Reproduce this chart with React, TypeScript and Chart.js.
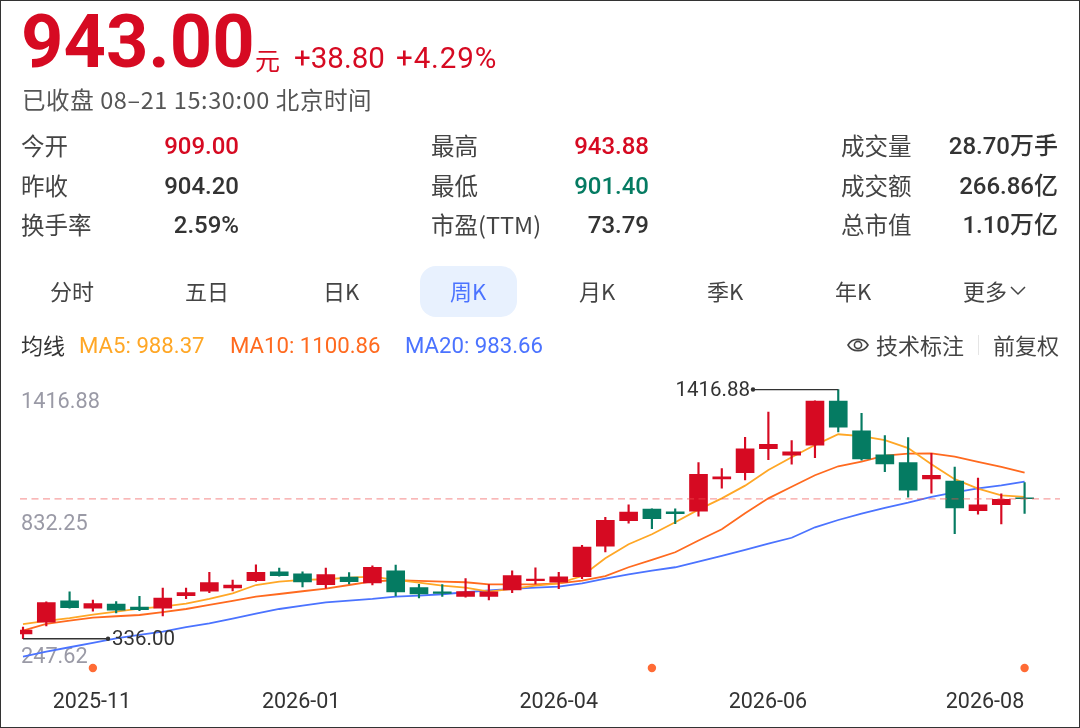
import React, { useEffect, useRef } from "react";
import { Chart, registerables } from "chart.js";

Chart.register(...registerables);

const opens = [357, 407.5, 500, 468, 486, 473, 468, 523, 542, 556, 588, 626, 618, 571, 603, 578, 631, 558, 539, 519, 519, 548, 588, 581, 605, 737, 848, 898, 886, 889, 1029, 1056, 1160, 1132, 1176, 1367, 1238, 1134, 1100, 1029, 1020, 891, 917, 945];
const closes = [374, 492.5, 471, 488, 460, 462, 512, 536, 579, 569, 624, 610, 582, 614, 584, 646, 539, 530, 532, 540, 539, 610, 595, 604, 733, 850, 885, 857, 878, 1049, 1038, 1160, 1179, 1147, 1367, 1254, 1116, 1094, 980, 1045, 903, 917, 941, 943];
const highs = [386, 495.5, 539, 504, 497, 520, 556, 556, 624, 590, 656, 642, 626, 642, 623, 652, 655, 572, 571, 597, 571, 630, 643, 624, 741, 863, 917, 899, 899, 1100, 1074, 1210, 1319, 1195, 1368, 1416.88, 1314, 1217, 1208, 1140, 1080, 1033, 964, 1013];
const lows = [336, 391.5, 468, 455, 448, 458, 435, 510, 536, 543, 585, 607, 561, 555, 574, 569, 522, 513, 519, 516, 504, 536, 574, 553, 597, 712, 837, 813, 835, 868, 989, 1025, 1113, 1093, 1121, 1233, 1111, 1061, 950, 967, 792, 876, 834, 880];
const ma5 = [399, 413, 425, 440.5, 453.5, 466.5, 475, 488, 508.5, 533, 569, 583.5, 591, 594, 601, 605, 591, 579, 566, 557.5, 540, 552, 566, 576.5, 608, 685, 746, 789, 841, 896, 945, 1000, 1068, 1123, 1176, 1223, 1215, 1197, 1163, 1093, 1028, 987, 958, 951];
const ma10 = [371, 400, 414.5, 427.5, 433.5, 439, 451, 465, 482.5, 500, 518.5, 530, 542, 553, 569, 585, 589.6, 586.6, 583.5, 581, 572, 572, 572, 576.5, 588, 608, 646, 678, 711, 762, 811, 880, 945, 995.5, 1045, 1084, 1104, 1130, 1138.6, 1140, 1125.6, 1102.6, 1081, 1056];
const ma20 = [258.4, 280, 299, 318, 338, 352.4, 367, 386, 403, 423, 445, 465, 479.5, 494, 501, 508.5, 518.5, 523, 529, 537.6, 546, 552, 557.5, 562, 576.5, 596.6, 615.6, 631, 646, 670, 695, 721, 748, 774, 819.4, 851, 878.4, 904, 926, 951, 971, 988.5, 1001.5, 1017];

const lastPrice = 943;
const highIndex = 35;
const lowIndex = 0;
const eventIndexes = [3, 27, 43];
const eventLevel = 209;
const yTicks = [247.62, 832.25, 1416.88];
const xTickIndexes = [2.96, 11.94, 23, 31.98, 41.3];
const xTickLabels = ["2025-11", "2026-01", "2026-04", "2026-06", "2026-08"];

const RED = "#D60A22";
const GREEN = "#057B62";
const FONT = "Roboto, 'Noto Sans CJK SC', sans-serif";
const CJK = "'Noto Sans CJK SC', Roboto, sans-serif";

const X_MIN = -0.129;
const X_MAX = 44.52;

const statRows = [
  [["今开", "909.00", RED], ["最高", "943.88", RED], ["成交量", "28.70万手", "#333"]],
  [["昨收", "904.20", "#333"], ["最低", "901.40", GREEN], ["成交额", "266.86亿", "#333"]],
  [["换手率", "2.59%", "#333"], ["市盈(TTM)", "73.79", "#333"], ["总市值", "1.10万亿", "#333"]],
];
const statRowY = [146, 186, 225];
const statLabelX = [21, 431, 841];
const statValueRight = [239, 649, 1058];

const tabs = [["分时", 72], ["五日", 207], ["日K", 341], ["周K", 468], ["月K", 597], ["季K", 725], ["年K", 853]] as const;

function T({ x, y, size, color = "#555", weight = 400, right, center, family = CJK, spacing = 0, children }: any) {
  const style: React.CSSProperties = {
    position: "absolute",
    top: y,
    transform: center ? "translate(-50%,-50%)" : right ? "translate(-100%,-50%)" : "translateY(-50%)",
    left: x,
    fontSize: size,
    color,
    fontWeight: weight,
    fontFamily: family,
    letterSpacing: spacing,
    whiteSpace: "pre",
    lineHeight: 1.2,
  };
  return <div style={style}>{children}</div>;
}

export default function App() {
  const ref = useRef<HTMLCanvasElement>(null);

  useEffect(() => {
    document.body.style.margin = "0";
    const idx = opens.map((_, i) => i);
    const colors = idx.map((i) => (closes[i] >= opens[i] ? RED : GREEN));

    const labelPlugin = {
      id: "extremeLabels",
      afterDatasetsDraw(chart: any) {
        const { ctx, scales } = chart;
        ctx.save();
        ctx.font = `20.5px ${FONT}`;
        ctx.fillStyle = "#333";
        ctx.textBaseline = "middle";
        ctx.textAlign = "right";
        ctx.fillText(highs[highIndex].toFixed(2), scales.x.getPixelForValue(31.34) - 3, scales.y.getPixelForValue(highs[highIndex]) + 1);
        ctx.textAlign = "left";
        ctx.fillText(lows[lowIndex].toFixed(2), scales.x.getPixelForValue(3.65) + 4, scales.y.getPixelForValue(lows[lowIndex]) + 1);
        ctx.restore();
      },
    };

    const line = (label: string, data: number[], color: string) => ({
      type: "line" as const,
      label,
      data: data.map((y, i) => ({ x: i, y })),
      borderColor: color,
      borderWidth: 1.8,
      pointRadius: 0,
      tension: 0,
      order: 3,
    });

    const chart = new Chart(ref.current!, {
      type: "line",
      data: {
        datasets: [
          {
            type: "line",
            label: "price",
            data: [{ x: X_MIN, y: lastPrice }, { x: X_MAX, y: lastPrice }],
            borderColor: "rgba(240,80,80,0.55)",
            borderWidth: 1.3,
            borderDash: [7, 4.5],
            pointRadius: 0,
            order: 0,
          },
          {
            type: "line",
            label: "highLeader",
            data: [{ x: highIndex, y: highs[highIndex] }, { x: 31.34, y: highs[highIndex] }],
            borderColor: "#333",
            backgroundColor: "#333",
            borderWidth: 1.3,
            pointRadius: [0, 2.2],
            pointBorderWidth: 0,
            order: 0,
          },
          {
            type: "line",
            label: "lowLeader",
            data: [{ x: lowIndex, y: lows[lowIndex] }, { x: 3.65, y: lows[lowIndex] }],
            borderColor: "#333",
            backgroundColor: "#333",
            borderWidth: 1.3,
            pointRadius: [0, 2.2],
            pointBorderWidth: 0,
            order: 0,
          },
          {
            type: "bar",
            label: "body",
            data: idx.map((i) => ({ x: i, y: [opens[i], closes[i]] })),
            backgroundColor: colors,
            barThickness: 18,
            minBarLength: 1,
            grouped: false,
            order: 1,
          },
          {
            type: "bar",
            label: "wick",
            data: idx.map((i) => ({ x: i, y: [lows[i], highs[i]] })),
            backgroundColor: colors,
            barThickness: 1.5,
            grouped: false,
            order: 2,
          },
          line("MA5", ma5, "#FFA726"),
          line("MA10", ma10, "#FF6A1F"),
          line("MA20", ma20, "#4B73FF"),
          {
            type: "line",
            label: "events",
            data: eventIndexes.map((x) => ({ x, y: eventLevel })),
            showLine: false,
            pointRadius: 4.2,
            pointBackgroundColor: "#FF6B35",
            pointBorderWidth: 0,
            order: 4,
          },
        ] as any,
      },
      options: {
        animation: false,
        responsive: false,
        devicePixelRatio: 1,
        parsing: { xAxisKey: "x", yAxisKey: "y" } as any,
        layout: { padding: { top: 379.6, left: 20, right: 20, bottom: 0 } },
        plugins: { legend: { display: false }, tooltip: { enabled: false } },
        scales: {
          x: {
            type: "linear",
            min: X_MIN,
            max: X_MAX,
            offset: false,
            grid: { display: false },
            border: { display: false },
            afterBuildTicks: (s: any) => {
              s.ticks = xTickIndexes.map((value) => ({ value }));
            },
            afterFit: (s: any) => {
              s.height = 48.7;
              s.paddingLeft = 0;
              s.paddingRight = 0;
            },
            ticks: {
              autoSkip: false,
              maxRotation: 0,
              padding: 2,
              color: "#333",
              font: { family: FONT, size: 21.5 },
              callback: (v: any) => xTickLabels[xTickIndexes.indexOf(v)],
            },
          },
          y: {
            type: "linear",
            min: 160,
            max: 1460,
            position: "left",
            grid: { display: false },
            border: { display: false },
            afterBuildTicks: (s: any) => {
              s.ticks = yTicks.map((value) => ({ value }));
            },
            afterFit: (s: any) => {
              s.width = 0;
              s.paddingTop = 0;
              s.paddingBottom = 0;
            },
            ticks: {
              mirror: true,
              autoSkip: false,
              padding: 1,
              color: "#9A9AA6",
              font: (c: any) => ({ family: FONT, size: 21.7, lineHeight: c.index === 0 ? "4px" : c.index === 2 ? "27px" : "24px" }),
              callback: (v: any) => {
                const s = Number(v).toFixed(2);
                if (v === yTicks[2]) return ["", s];
                if (v === yTicks[0]) return [s, ""];
                return s;
              },
            },
          },
        },
      } as any,
      plugins: [labelPlugin],
    });
    return () => chart.destroy();
  }, []);

  return (
    <div style={{ position: "absolute", left: 0, top: 0, width: 1080, height: 728, overflow: "hidden", background: "#fff" }}>
      <canvas ref={ref} width={1080} height={728} style={{ position: "absolute", left: 0, top: 0, display: "block" }} />
      <div style={{ position: "absolute", left: 0, top: 0, width: 1080, height: 728, boxSizing: "border-box", border: "1px solid #333" }} />

      <T x={21} y={42} size={74} weight={700} color={RED} family={FONT}>943.00</T>
      <T x={255} y={59} size={25} color={RED}>元</T>
      <T x={294} y={59} size={29.5} color={RED} family={FONT}>+38.80</T>
      <T x={396} y={59} size={29.5} color={RED} family={FONT} spacing={0.9}>+4.29%</T>
      <T x={22} y={99} size={23.5} color="#555" spacing={0.6}>已收盘 08–21 15:30:00 北京时间</T>

      {statRows.map((row, r) =>
        row.map((c, i) => (
          <React.Fragment key={`${r}-${i}`}>
            <T x={statLabelX[i]} y={statRowY[r] - 1} size={23.5} color="#444">{c[0]}</T>
            <T x={statValueRight[i]} y={statRowY[r]} size={24} weight={500} right color={c[2]} family={FONT}>{c[1]}</T>
          </React.Fragment>
        ))
      )}

      <div style={{ position: "absolute", left: 420, top: 266, width: 97, height: 51, borderRadius: 16, background: "#E8F1FE" }} />
      {tabs.map(([t, x]) => (
        <T key={t} x={x} y={290} size={22} center color={t === "周K" ? "#4B73FF" : "#444"}>{t}</T>
      ))}
      <T x={963} y={290} size={22} color="#444">更多</T>
      <svg style={{ position: "absolute", left: 1009, top: 285 }} width="18" height="12" viewBox="0 0 18 12">
        <path d="M2 2 L9 9 L16 2" fill="none" stroke="#444" strokeWidth="1.5" />
      </svg>

      <T x={21} y={344} size={22} color="#333">均线</T>
      <T x={79} y={345} size={22.2} color="#FFA726" family={FONT}>MA5: 988.37</T>
      <T x={230} y={345} size={22.2} color="#FF6A1F" family={FONT}>MA10: 1100.86</T>
      <T x={405} y={345} size={22.2} color="#4B73FF" family={FONT}>MA20: 983.66</T>

      <svg style={{ position: "absolute", left: 846, top: 334 }} width="24" height="22" viewBox="0 0 24 22">
        <path d="M2 11 C6 3.5 18 3.5 22 11 C18 18.5 6 18.5 2 11 Z" fill="none" stroke="#444" strokeWidth="1.6" />
        <circle cx="12" cy="11" r="3.6" fill="none" stroke="#444" strokeWidth="1.6" />
      </svg>
      <T x={876} y={344} size={22} color="#444">技术标注</T>
      <div style={{ position: "absolute", left: 978, top: 335, width: 1, height: 20, background: "#E5E5E5" }} />
      <T x={993} y={344} size={22} color="#444">前复权</T>
    </div>
  );
}
